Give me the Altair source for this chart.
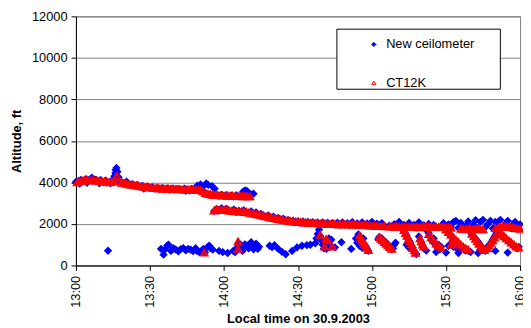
import altair as alt
import pandas as pd

FONT = "Liberation Sans"

# ---------- New ceilometer (blue) ----------
# main upper layer, one value per minute from 13:00
new_upper_start = 0
new_upper_alt = [4020, 4060, 4120, 4090, 4160, 4110, 4180, 4090, 4140, 4060, 4110, 4020, 4080, 4000, 3960,
                 4150, 4450, 4100, 4010, 3990, 3940, 3930, 3880, 3900, 3850, 3870, 3800, 3820, 3760, 3790,
                 3740, 3760, 3700, 3730, 3690, 3720, 3670, 3710, 3660, 3700, 3650, 3690, 3660, 3640, 3700,
                 3650, 3620, 3690, 3640, 3660, 3700, 3600, 3500, 3460, 3420, 3380, 3420, 3390, 3360, 3400,
                 3350, 3380, 3330, 3360, 3320, 3370, 3330, 3350, 3380, 3320, 3340, 3420, 3460]
new_upper_extra_min = [1.5, 4.5, 6.5, 9.5, 15.6, 16.1, 16.4, 16.8, 17.3, 20.5, 27.5, 44.5, 49.2, 50.5,
                       51.2, 52.8, 53.6, 55.2, 56.2, 67.8, 68.6, 69.4]
new_upper_extra_alt = [3950, 3980, 4230, 3960, 4300, 4600, 4700, 4520, 4250, 4040, 3700, 3600, 3850, 3900,
                       3780, 3950, 3880, 3820, 3700, 3560, 3620, 3580]
# second layer from 13:56
new_second_start = 56
new_second_alt = [2620, 2720, 2660, 2760, 2690, 2740, 2650, 2610, 2700, 2570, 2640, 2560, 2660, 2590, 2520,
                  2610, 2480, 2560, 2430, 2480, 2400, 2350, 2410, 2300, 2350, 2250, 2290, 2200, 2250, 2150,
                  2200, 2110, 2160, 2080, 2130, 2060, 2120, 2050, 2100, 2030, 2090, 2020, 2070, 2000, 2080,
                  1990, 2060, 1980, 2050, 1970, 2060, 1960, 2080, 1970, 2040, 1950, 2090, 1960, 2030, 1940,
                  2080, 1950, 2030, 1940, 2100, 1950, 2020, 1930, 2040, 1920]
new_third_start = 127
new_third_alt = [1920, 1850, 1990, 1870, 2100, 1880, 1960, 1840, 2050, 1870, 1960, 1830, 2080, 1880, 1940,
                 1850, 2000, 1860, 1950, 1840]
new_fourth_start = 148
new_fourth_alt = [1900, 2040, 1880, 1980, 1860, 2090, 2150, 1800, 2050, 1780, 1900, 2120, 1760, 1950, 2180,
                  1800, 2100, 2200, 1850, 2000, 2150, 1780, 2100, 1900, 2200, 1820, 2000, 2150, 1800, 1950,
                  2100, 1850, 1980]
# low cloud returns
new_low_min = [13, 34.5, 35.5, 36, 37, 37.5, 38.5, 39.5, 40.5, 41.5, 42.5, 43.5, 44.5, 45.5, 46.5, 47.5,
               48.5, 49, 50, 51, 51.7, 52.3, 53.5, 54, 54.5, 55.5,
               58, 59.5, 61.5, 63.7, 64.5, 65, 65.7, 66, 66.5, 67, 67.5, 68, 68.5, 69.5, 70, 71, 71.5, 72,
               73, 73.7, 74.2,
               78.5, 79.5, 80.5, 82, 83.5, 85, 87.6, 89.6, 91.6, 93.6, 95,
               97, 97.5, 98, 98.5, 99, 99.5, 100, 100.5, 101.5, 102, 102.5, 103, 103.5, 105, 107.6, 111.6,
               114.5, 115, 115.5, 116, 116.5, 117, 117.5, 118, 118.5, 114, 115, 116, 113.5,
               122.5, 123, 123.5, 124, 124.5, 125, 125.5, 126, 126.5, 127, 127.5, 128, 128.5, 129, 129.5,
               132.5, 133, 133.5, 134, 134.5, 135, 135.5, 136, 136.5, 137, 137.5, 138, 134, 135,
               139, 139.5, 140, 140.5, 141, 142.5, 143, 143.5, 144, 144.5, 145, 145.5, 146, 146.5, 147,
               147.5, 148,
               149, 149.5, 150, 150.5, 151, 151.5, 152, 152.5, 153, 153.5, 154, 154.5, 155, 155.5, 156,
               156.5, 157, 157.5, 158, 159, 151, 152, 153, 154.5,
               160, 160.5, 161, 161.5, 162, 162.5, 163, 163.5, 164, 164.5, 165, 165.5, 166,
               166.5, 167, 167.5, 168, 168.5, 169, 169.5, 170, 170.5, 171, 172, 172.5, 173, 173.5, 174,
               174.5, 175, 175.5, 176, 176.5, 177, 177.5, 178, 178.5, 179, 179.5,
               150, 155, 160, 163, 170, 175, 142, 146]
new_low_alt = [710, 800, 520, 760, 960, 1000, 700, 830, 760, 680, 790, 840, 730, 800, 760, 690,
               830, 700, 640, 720, 800, 640, 900, 960, 840, 760,
               700, 640, 600, 700, 640, 780, 900, 1080, 820, 960, 700, 880, 1020, 960, 820, 1120, 920, 780,
               1050, 800, 900,
               950, 880, 980, 800, 660, 540, 700, 870, 950, 980, 1000,
               1070, 1300, 1520, 1720, 1420, 1200, 1000, 820, 800, 1100, 1300, 900, 1240, 870, 1120, 800,
               1500, 1400, 1250, 1150, 1300, 1000, 900, 800, 700, 1100, 950, 850, 1300,
               1280, 1380, 1200, 1300, 1150, 1050, 1130, 960, 1000, 860, 900, 780, 820, 1000, 1100,
               1800, 1650, 1550, 1450, 1300, 1200, 1100, 950, 850, 700, 600, 550, 1000, 850,
               1400, 1200, 1100, 950, 820, 1650, 1550, 1400, 1280, 1150, 1300, 1050, 950, 850, 1000,
               780, 900,
               1900, 1800, 1700, 1650, 1560, 1500, 1430, 1350, 1300, 1200, 1150, 1050, 1000, 950, 900,
               850, 800, 760, 720, 700, 950, 1050, 900, 800,
               1600, 1500, 1430, 1350, 1270, 1200, 1120, 1050, 950, 880, 800, 740, 700,
               850, 900, 980, 1050, 1150, 1250, 1350, 1450, 1550, 1650, 1550, 1480, 1420, 1350, 1300,
               1250, 1200, 1150, 1100, 1050, 1000, 950, 900, 860, 820, 900,
               620, 600, 650, 600, 700, 620, 720, 650]

# ---------- CT12K (red) ----------
ct_upper_start = 0.5
ct_upper_alt = [4000, 4050, 4080, 4100, 4120, 4100, 4120, 4080, 4100, 4060, 4080, 4030, 4050, 4000, 4020,
                4060, 4300, 4050, 3980, 3960, 3930, 3900, 3880, 3870, 3850, 3830, 3800, 3790, 3770, 3760,
                3740, 3730, 3720, 3710, 3700, 3700, 3690, 3690, 3680, 3680, 3670, 3670, 3660, 3660, 3660,
                3650, 3650, 3660, 3650, 3640, 3620, 3560, 3480, 3440, 3420, 3400, 3390, 3380, 3370, 3370,
                3360, 3360, 3350, 3350, 3340, 3340, 3340, 3330, 3330, 3330, 3320]
ct_second_start = 56
ct_second_alt = [2640, 2680, 2670, 2690, 2660, 2680, 2640, 2620, 2630, 2600, 2600, 2590, 2590, 2570, 2540,
                 2520, 2490, 2470, 2440, 2420, 2390, 2360, 2340, 2300, 2280, 2250, 2230, 2210, 2190, 2170,
                 2150, 2130, 2120, 2100, 2090, 2080, 2070, 2060, 2050, 2040, 2030, 2030, 2020, 2010, 2010,
                 2000, 2000, 1990, 1990, 1990, 1980, 1980, 1980, 1970, 1970, 1970, 1960, 1960, 1960, 1950,
                 1950, 1950, 1940, 1920, 1910, 1900, 1900, 1890, 1890, 1880]
ct_third_start = 127
ct_third_alt = [1870, 1880, 1860, 1870, 1850, 1860, 1850, 1860, 1850, 1840, 1850, 1840, 1830, 1860, 1870,
                1880, 1860, 1870, 1850, 1860, 1840, 1850]
ct_fourth_start = 149
ct_fourth_alt = [1850, 1840, 1830, 1820]
ct_fifth_start = 156
ct_fifth_alt = [1760, 1750, 1760, 1740, 1750, 1740, 1760, 1750, 1730, 1740]
ct_sixth_start = 170
ct_sixth_alt = [1800, 1820, 1850, 1870, 1880, 1860, 1850, 1830, 1800, 1780, 1760]
ct_low_min = [52, 65.7, 65.7, 99, 100.7, 101.4, 102, 103.9,
              115, 115.5, 116, 116.5, 117, 117.5, 118, 118.5,
              123, 123.7, 124.4, 125.1, 125.8, 126.5, 127.2, 128,
              133, 133.6, 134.2, 134.8, 135.4, 136, 136.6, 137.2, 137.6,
              139.5, 140, 140.5, 141, 143, 144, 145, 146, 147, 148,
              149, 150, 151, 152, 153, 154, 155, 156, 157, 158, 159, 152, 153,
              160.5, 161.3, 162, 162.7, 163.4, 164.1, 164.8, 165.5,
              166.8, 167.5, 168.2, 168.9, 169.6, 170.3, 171,
              172.5, 173.5, 174.5, 175.5, 176.5, 177.5, 178.5, 179.5]
ct_low_alt = [610, 1150, 790, 1470, 900, 1260, 1200, 900,
              1440, 1330, 1230, 1120, 1040, 940, 840, 740,
              1360, 1280, 1200, 1120, 1040, 960, 880, 800,
              1700, 1560, 1420, 1280, 1140, 1000, 860, 720, 600,
              1300, 1150, 1000, 900, 1500, 1350, 1200, 1050, 950, 850,
              1850, 1720, 1600, 1480, 1360, 1240, 1120, 1000, 900, 820, 760, 1000, 1080,
              1520, 1400, 1280, 1160, 1040, 920, 820, 740,
              820, 950, 1080, 1210, 1340, 1470, 1600,
              1500, 1400, 1300, 1200, 1100, 1000, 900, 850]

series_names = ["New ceilometer", "CT12K"]
tick_minutes = [0, 30, 60, 90, 120, 150, 180]
alt_ticks = [0, 2000, 4000, 6000, 8000, 10000, 12000]


def regular(name, start, alts):
    return [{"series": name, "minute": start + i, "alt": a} for i, a in enumerate(alts)]


def pairs(name, mins, alts):
    return [{"series": name, "minute": m, "alt": a} for m, a in zip(mins, alts)]


blue_rows = (regular(series_names[0], new_upper_start, new_upper_alt)
             + pairs(series_names[0], new_upper_extra_min, new_upper_extra_alt)
             + regular(series_names[0], new_second_start, new_second_alt)
             + regular(series_names[0], new_third_start, new_third_alt)
             + regular(series_names[0], new_fourth_start, new_fourth_alt)
             + pairs(series_names[0], new_low_min, new_low_alt))
red_rows = (regular(series_names[1], ct_upper_start, ct_upper_alt)
            + regular(series_names[1], ct_second_start, ct_second_alt)
            + regular(series_names[1], ct_third_start, ct_third_alt)
            + regular(series_names[1], ct_fourth_start, ct_fourth_alt)
            + regular(series_names[1], ct_fifth_start, ct_fifth_alt)
            + regular(series_names[1], ct_sixth_start, ct_sixth_alt)
            + pairs(series_names[1], ct_low_min, ct_low_alt))

blue_df = pd.DataFrame(blue_rows)
red_df = pd.DataFrame(red_rows)

legend = alt.Legend(title=None, orient="none", legendX=296, legendY=22, padding=0,
                    labelFont=FONT, labelFontSize=13, labelColor="black", labelOffset=6,
                    symbolSize=18, symbolStrokeWidth=1, rowPadding=25)

x_enc = alt.X("minute:Q", scale=alt.Scale(domain=[0, 180], nice=False),
              axis=alt.Axis(values=tick_minutes, labelAngle=-90, grid=False,
                            labelExpr="(13 + floor(datum.value / 60)) + ':' + (datum.value % 60 == 0 ? '00' : '30')",
                            title="Local time on 30.9.2003", titlePadding=5, labelPadding=5))
y_enc = alt.Y("alt:Q", scale=alt.Scale(domain=[0, 12000], nice=False),
              axis=alt.Axis(values=alt_ticks, grid=True, format="d", title="Altitude, ft",
                            titlePadding=8, labelPadding=4))
shape_scale = alt.Scale(domain=series_names, range=["diamond", "triangle-up"])
fill_scale = alt.Scale(domain=series_names, range=["#0000ff", "transparent"])
stroke_scale = alt.Scale(domain=series_names, range=["#0000ff", "#ff0000"])

blue_pts = alt.Chart(blue_df).mark_point(size=40, strokeWidth=1.5, opacity=1, clip=False).encode(
    x=x_enc, y=y_enc,
    shape=alt.Shape("series:N", scale=shape_scale, legend=legend),
    fill=alt.Fill("series:N", scale=fill_scale, legend=legend),
    stroke=alt.Stroke("series:N", scale=stroke_scale, legend=legend),
)

red_pts = alt.Chart(red_df).mark_point(size=40, strokeWidth=2.2, opacity=1, clip=False).encode(
    x=x_enc, y=y_enc,
    shape=alt.Shape("series:N", scale=shape_scale, legend=None),
    fill=alt.Fill("series:N", scale=fill_scale, legend=None),
    stroke=alt.Stroke("series:N", scale=stroke_scale, legend=None),
)

box = alt.Chart(alt.Data(values=[{}])).mark_rect(fill="white", stroke="black", strokeWidth=1).encode(
    x=alt.value(265), x2=alt.value(431), y=alt.value(13), y2=alt.value(74)
)

chart = alt.layer(box, blue_pts, red_pts).properties(
    width=451, height=253,
    padding={"left": 69, "top": 6, "right": 3, "bottom": 61},
    autosize=alt.AutoSizeParams(type="none"),
).configure_view(
    stroke="#808080", strokeWidth=1
).configure_axis(
    labelFont=FONT, labelFontSize=13, labelColor="black",
    titleFont=FONT, titleFontSize=13, titleFontWeight="bold", titleColor="black",
    domainColor="black", domainWidth=1, tickColor="black", tickSize=5,
    gridColor="#808080", gridWidth=1,
)

chart.save("out.html", embed_options={"renderer": "svg", "actions": False})
